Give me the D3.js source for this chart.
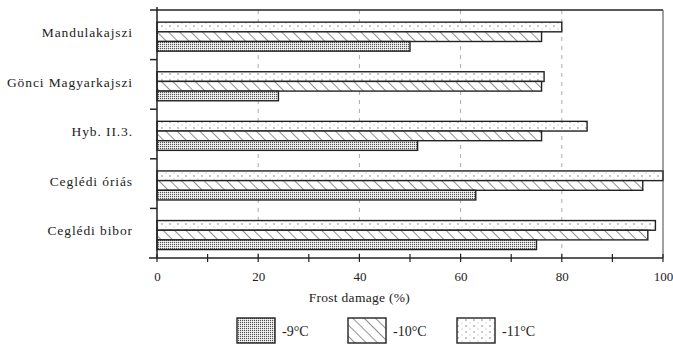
<!DOCTYPE html>
<html><head><meta charset="utf-8">
<script src="https://cdn.jsdelivr.net/npm/d3@7"></script>
<style>body{margin:0;background:#fff}svg{display:block}text{font-family:"Liberation Serif","Times New Roman",serif;fill:#222}</style>
</head><body><svg id="c" width="673" height="345"></svg>
<script>
const categories = ["Mandulakajszi","Gönci Magyarkajszi","Hyb. II.3.","Ceglédi óriás","Ceglédi bibor"];
const seriesNames = ["-11°C","-10°C","-9°C"];
const legendOrder = ["-9°C","-10°C","-11°C"];
const valsM11 = [80, 76.5, 85, 100, 98.5];
const valsM10 = [76, 76, 76, 96, 97];
const valsM9  = [50, 24, 51.5, 63, 75];
const xTicks = [0,20,40,60,80,100];
const xMinor = [10,30,50,70,90];
const xTitle = "Frost damage (%)";

const series = {"-11°C": valsM11, "-10°C": valsM10, "-9°C": valsM9};
const svg = d3.select("#c");
const L = 157, R = 663, T = 10, B = 258;
const x = d3.scaleLinear().domain([0,100]).range([L,R]);
const y = d3.scaleBand().domain(categories).range([T,B]);
const inner = d3.scaleBand().domain(seriesNames).range([y.bandwidth()*0.245, y.bandwidth()*0.83]);

const defs = svg.append("defs");
const p9 = defs.append("pattern").attr("id","p9").attr("patternUnits","userSpaceOnUse").attr("width",2).attr("height",2);
p9.append("rect").attr("width",2).attr("height",2).attr("fill","#fff");
p9.append("rect").attr("width",1.2).attr("height",1.2).attr("fill","#555");
const p10 = defs.append("pattern").attr("id","p10").attr("patternUnits","userSpaceOnUse").attr("width",8).attr("height",8).attr("patternTransform","rotate(-45)");
p10.append("rect").attr("width",8).attr("height",8).attr("fill","#fff");
p10.append("line").attr("x1",0).attr("y1",0).attr("x2",0).attr("y2",8).attr("stroke","#333").attr("stroke-width",1.1);
const p11 = defs.append("pattern").attr("id","p11").attr("patternUnits","userSpaceOnUse").attr("width",8).attr("height",6);
p11.append("rect").attr("width",8).attr("height",6).attr("fill","#fff");
p11.append("circle").attr("cx",2).attr("cy",2).attr("r",0.7).attr("fill","#666");
p11.append("circle").attr("cx",6).attr("cy",5).attr("r",0.5).attr("fill","#999");
const fills = {"-9°C":"url(#p9)","-10°C":"url(#p10)","-11°C":"url(#p11)"};

svg.append("g").selectAll("line").data([20,40,60,80]).join("line")
  .attr("x1",d=>x(d)).attr("x2",d=>x(d)).attr("y1",T).attr("y2",B)
  .attr("stroke","#aaa").attr("stroke-width",1).attr("stroke-dasharray","4,5");

const g = svg.append("g");
categories.forEach((c,i)=>{
  seriesNames.forEach(s=>{
    g.append("rect")
      .attr("x",x(0)).attr("y",y(c)+inner(s))
      .attr("width",x(series[s][i])-x(0)).attr("height",inner.bandwidth())
      .attr("fill",fills[s]).attr("stroke","#222").attr("stroke-width",1.4);
  });
});

svg.append("line").attr("x1",150).attr("x2",R).attr("y1",T).attr("y2",T).attr("stroke","#222").attr("stroke-width",1.5);
svg.append("line").attr("x1",R).attr("x2",R).attr("y1",T).attr("y2",B).attr("stroke","#444").attr("stroke-width",1);
svg.append("line").attr("x1",L).attr("x2",L).attr("y1",T-3).attr("y2",B).attr("stroke","#222").attr("stroke-width",1.5);
svg.append("g").selectAll("line").data(categories.slice(1)).join("line")
  .attr("x1",150).attr("x2",L).attr("y1",d=>y(d)).attr("y2",d=>y(d)).attr("stroke","#222").attr("stroke-width",1.5);

const xa = svg.append("g").attr("transform",`translate(0,${B})`)
  .call(d3.axisBottom(x).tickValues(xTicks).tickSize(0).tickPadding(14).tickFormat(d3.format("d")));
xa.select(".domain").attr("stroke","#222").attr("stroke-width",1.5).attr("d",`M${L-8},0H${R}`);
xa.selectAll("text").attr("font-size",13).attr("font-family","Liberation Serif").attr("fill","#222");
svg.append("g").selectAll("line").data(xTicks.concat(xMinor)).join("line")
  .attr("x1",d=>x(d)).attr("x2",d=>x(d)).attr("y1",B-4).attr("y2",B+4).attr("stroke","#222").attr("stroke-width",1.2);
svg.append("text").attr("x",x(40)).attr("y",302).attr("text-anchor","middle").attr("font-size",13.5).attr("letter-spacing",0.3).text(xTitle);

svg.append("g").selectAll("text").data(categories).join("text")
  .attr("x",133).attr("y",d=>y(d)+y.bandwidth()*0.45).attr("dy","0.35em")
  .attr("text-anchor","end").attr("font-size",13.5).attr("letter-spacing",0.9).text(d=>d);

const legX = [237,348,457];
legendOrder.forEach((s,i)=>{
  svg.append("rect").attr("x",legX[i]).attr("y",318).attr("width",38).attr("height",25)
    .attr("fill",fills[s]).attr("stroke","#222").attr("stroke-width",1.4);
  svg.append("text").attr("x",legX[i]+45).attr("y",336).attr("font-size",14).text(s);
});
</script></body></html>
